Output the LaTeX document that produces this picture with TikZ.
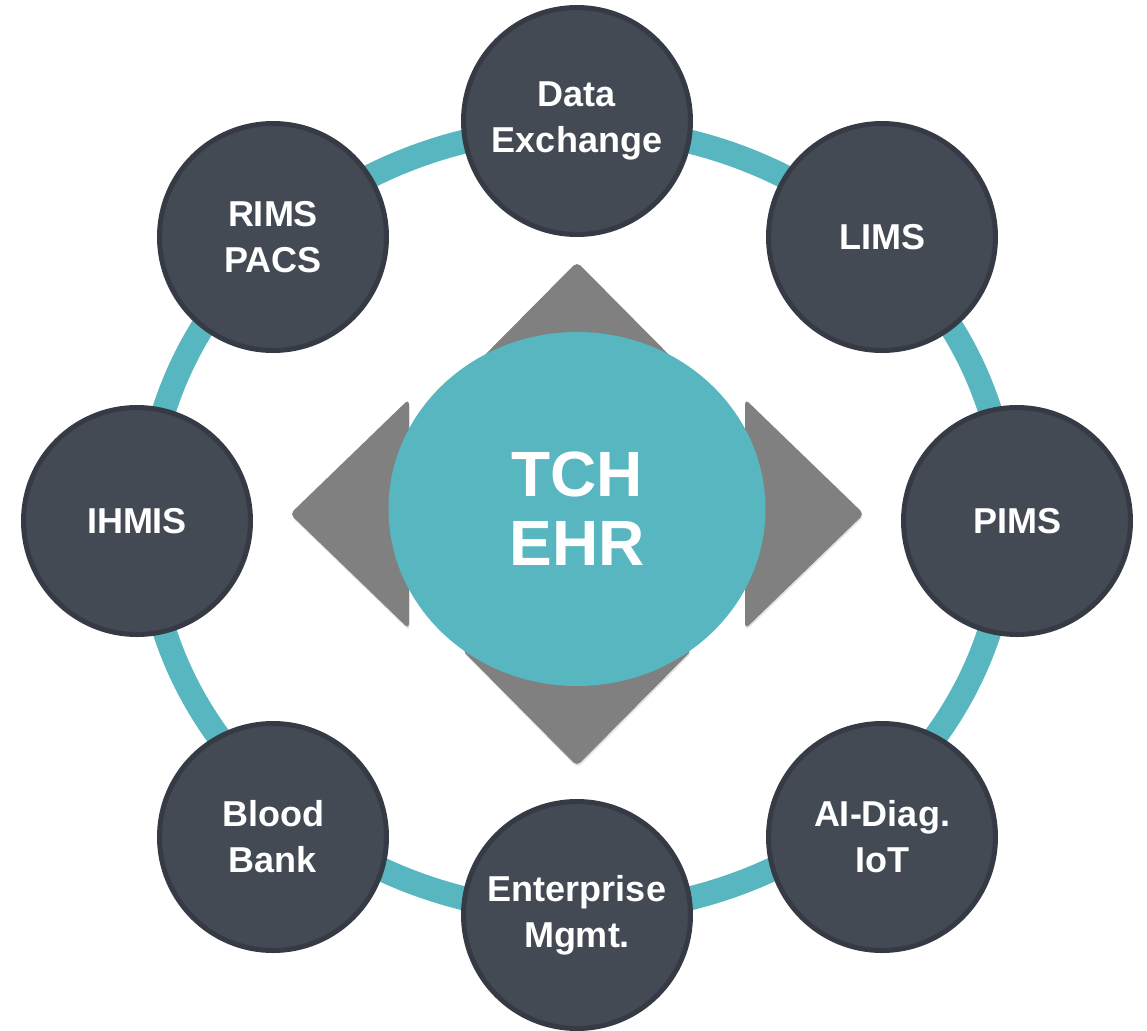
\documentclass[tikz,border=0pt]{standalone}
\usepackage{fontspec}
\setmainfont{Liberation Sans}
\usepackage{xcolor}
\usetikzlibrary{shapes.geometric,shadows}
\definecolor{ringteal}{HTML}{58B6C0}
\definecolor{slate}{HTML}{434A54}
\definecolor{slateedge}{HTML}{353A45}
\definecolor{wedgegray}{HTML}{808080}
\tikzset{
  band/.style={draw=ringteal, line width=12pt},
  wedge/.style={fill=wedgegray, rounded corners=2.5pt,
    drop shadow={shadow xshift=0.3pt, shadow yshift=-1pt, opacity=0.22}},
  hub/.style={ellipse, fill=ringteal, inner sep=0pt, minimum width=188.5pt,
    minimum height=177pt, align=center, text=white,
    font=\bfseries\fontsize{32}{34.5}\selectfont},
  module/.style={circle, fill=slate, draw=slateedge, line width=2.5pt,
    minimum size=113.5pt, inner sep=0pt, align=center, text=white,
    font=\bfseries\fontsize{18}{23}\selectfont},
}

\begin{document}
\begin{tikzpicture}[x=0.5pt, y=-0.5pt]
  \useasboundingbox (0,0) rectangle (1147,1030);

  \draw[band] (577,520) ellipse [x radius=430, y radius=392]; % outer ring

  % four wedges round the hub
  \fill[wedge] (462,378) -- (577,262) -- (692,378) -- cycle;
  \fill[wedge] (462,650) -- (577,766) -- (692,650) -- cycle;
  \fill[wedge] (409,399) -- (290,514) -- (409,629) -- cycle;
  \fill[wedge] (745,399) -- (864,514) -- (745,629) -- cycle;

  \node[hub] (ehr) at (577,509) {TCH\\EHR};

  \node[module] (dx) at (577,121) {Data\\Exchange};
  \node[module] (lims) at (882,237) {LIMS};
  \node[module] (pims) at (1017,521) {PIMS};
  \node[module] (aidiag) at (882,837) {AI-Diag.\\IoT};
  \node[module] (ent) at (577,915) {Enterprise\\Mgmt.};
  \node[module] (blood) at (273,837) {Blood\\Bank};
  \node[module] (ihmis) at (137,521) {IHMIS};
  \node[module] (rims) at (273,237) {RIMS\\PACS};
\end{tikzpicture}
\end{document}
